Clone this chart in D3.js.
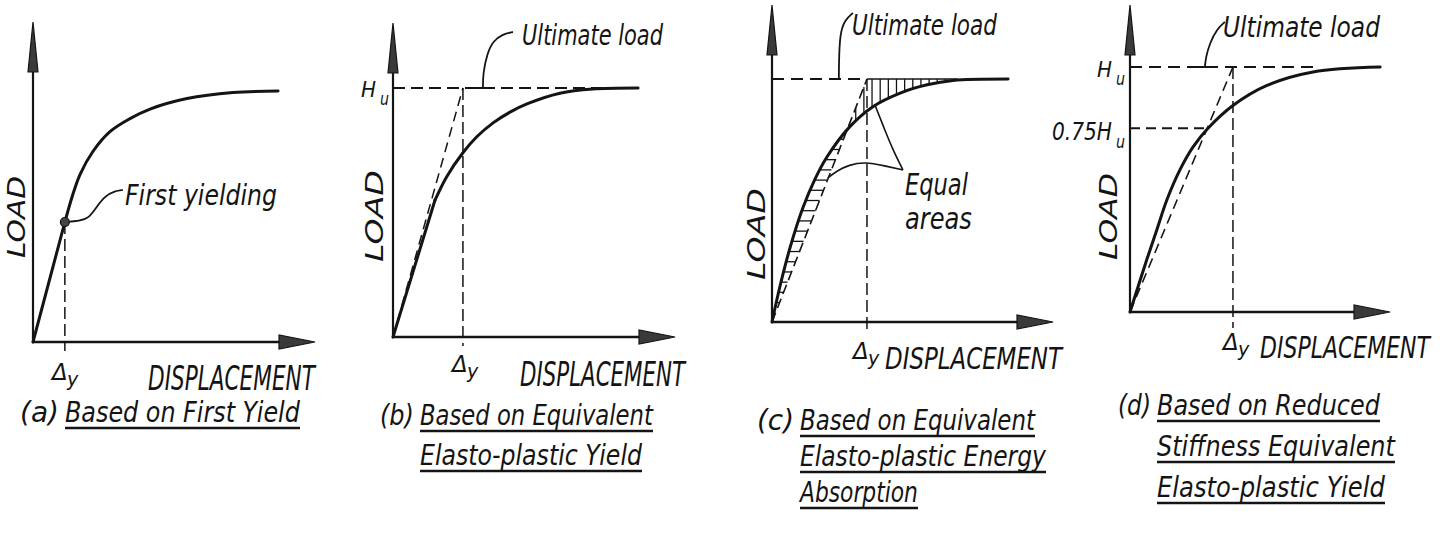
<!DOCTYPE html>
<html><head><meta charset="utf-8">
<script src="https://cdn.jsdelivr.net/npm/d3@7/dist/d3.min.js"></script>
<style>html,body{margin:0;padding:0;background:#fff;}svg{display:block;}</style>
</head><body>
<svg id="chart" width="1440" height="533"></svg>
<script>
// ---------- DATA (displacement in % of axis length, load in % of Hu) ----------
const dispA = [0, 11.3, 13.8, 16.7, 21.3, 27.3, 34.4, 41.5, 54.6, 70.9, 86.9];
const loadA = [0, 47.8, 57.6, 66.8, 76.0, 83.8, 89.0, 92.8, 97.0, 99.4, 100];
const dispB = [0, 14.9, 19.1, 24.8, 29.8, 35.5, 41.5, 47.5, 59.2, 70.9, 86.9];
const loadB = [0, 55.0, 64.5, 74.0, 80.5, 86.0, 90.3, 93.6, 97.9, 99.6, 100];
const dispC = [0, 2.8, 6.4, 11.0, 15.3, 19.6, 27.8, 35.9, 45.6, 55.2, 64.4, 84.0];
const loadC = [0, 14.5, 30.5, 47.0, 58.8, 68.0, 80.5, 88.6, 94.2, 97.6, 99.4, 100];
const dispD = [0, 6.5, 10.4, 14.2, 19.2, 24.2, 30.0, 39.6, 52.7, 70.4, 96.2];
const loadD = [0, 21.5, 33.8, 45.8, 58.0, 67.3, 75.0, 84.3, 92.5, 98.0, 100];
const yieldA = [11.3, 47.8];          // first yielding point (a)
const deltaY = [11.3, 24.8, 33.8, 39.6]; // yield displacement per panel
const loadLevels = [100, 75];          // Hu, 0.75Hu
const yTickLabels = ["H", "0.75H"];
const panelLetters = ["(a)", "(b)", "(c)", "(d)"];
const captions = [
  ["Based on First Yield"],
  ["Based on Equivalent", "Elasto-plastic Yield"],
  ["Based on Equivalent", "Elasto-plastic Energy", "Absorption"],
  ["Based on Reduced", "Stiffness Equivalent", "Elasto-plastic Yield"]
];

// ---------- LAYOUT ----------
const svg = d3.select("#chart");
const INK = "#141414";
const FONT = "'DejaVu Sans', 'Liberation Sans', sans-serif";
const layout = [
  {ox: 33,   oy: 342, W: 282, huY: 91, yTop: 22},
  {ox: 393,  oy: 337, W: 282, huY: 88, yTop: 23},
  {ox: 772,  oy: 322, W: 281, huY: 79, yTop: 5},
  {ox: 1130, oy: 312, W: 260, huY: 67, yTop: 5}
];
const panels = layout.map(L => ({
  L,
  x: d3.scaleLinear().domain([0, 100]).range([L.ox, L.ox + L.W]),
  y: d3.scaleLinear().domain([0, 100]).range([L.oy, L.huY]),
  g: svg.append("g")
}));

// text drawn at its natural size, then squeezed with a transform to the wanted length
function txt(g, s, x, y, size, len, rot) {
  const t = g.append("text").attr("x", 0).attr("y", 0)
    .attr("font-family", FONT).attr("font-style", "italic")
    .attr("font-size", size).attr("fill", INK).text(s);
  const nat = t.node().getComputedTextLength();
  const sx = len ? len / nat : 1;
  t.attr("transform", `translate(${x},${y})${rot ? " rotate(-90)" : ""} scale(${sx},1)`);
  return t;
}
function seg(g, x1, y1, x2, y2, w, dash) {
  const l = g.append("line").attr("x1", x1).attr("y1", y1).attr("x2", x2).attr("y2", y2)
    .attr("stroke", INK).attr("stroke-width", w || 2);
  if (dash) l.attr("stroke-dasharray", dash);
  return l;
}
function axes(p) {
  const {g, L} = p;
  const tip = L.ox + L.W;
  seg(g, L.ox, L.oy + 1, L.ox, L.yTop + 40, 2.2);
  g.append("path").attr("d", `M${L.ox},${L.yTop} L${L.ox + 5},${L.yTop + 50} L${L.ox - 5},${L.yTop + 50} Z`)
    .attr("fill", "#3a3a3a").attr("stroke", INK).attr("stroke-width", 1.2);
  seg(g, L.ox - 1, L.oy, tip - 30, L.oy, 2.4);
  g.append("path").attr("d", `M${tip},${L.oy} L${tip - 36},${L.oy - 7} L${tip - 36},${L.oy + 7} Z`)
    .attr("fill", "#3a3a3a").attr("stroke", INK).attr("stroke-width", 1.2);
}
const curveGen = (p) => d3.line().x(d => p.x(d[0])).y(d => p.y(d[1])).curve(d3.curveCatmullRom.alpha(0.5));
function drawCurve(p, disp, load, linearFirst) {
  const pts = disp.map((d, i) => [d, load[i]]);
  if (linearFirst) {
    seg(p.g, p.x(pts[0][0]), p.y(pts[0][1]), p.x(pts[1][0]), p.y(pts[1][1]), 3).attr("stroke-linecap", "round");
    p.g.append("path").attr("d", curveGen(p)(pts.slice(1))).attr("fill", "none")
      .attr("stroke", INK).attr("stroke-width", 3).attr("stroke-linecap", "round");
  } else {
    p.g.append("path").attr("d", curveGen(p)(pts)).attr("fill", "none")
      .attr("stroke", INK).attr("stroke-width", 3).attr("stroke-linecap", "round");
  }
}
function leader(g, pts, w) {
  g.append("path").attr("d", d3.line().curve(d3.curveBasis)(pts)).attr("fill", "none")
    .attr("stroke", INK).attr("stroke-width", w || 1.8);
}
function deltaLabel(g, x, y) {
  txt(g, "Δ", x, y, 23);
  txt(g, "y", x + 15, y + 6, 19);
}
function hLabel(g, s, xRight, y, size, len) {
  txt(g, s, xRight - 14 - len, y, size, len);
  txt(g, "u", xRight - 10, y + 8, 17, 9);
}
function caption(g, idx, xL, xT, ys, lens) {
  txt(g, panelLetters[idx], xL, ys[0], 28, xT - xL - 6);
  captions[idx].forEach((c, i) => {
    txt(g, c, xT, ys[i], 28, lens[i]);
    seg(g, xT, ys[i] + 6, xT + lens[i], ys[i] + 6, 2.6);
  });
}

// ---------- PANEL (a) ----------
{
  const p = panels[0], g = p.g;
  axes(p);
  drawCurve(p, dispA, loadA, true);
  seg(g, p.x(deltaY[0]), p.y(yieldA[1]), p.x(deltaY[0]), p.L.oy + 9, 1.5, "12,5");
  const a = [p.x(yieldA[0]), p.y(yieldA[1])];
  leader(g, [[a[0], a[1]], [a[0] + 15, a[1] - 1], [a[0] + 24, a[1] - 4], [a[0] + 31, a[1] - 14], [a[0] + 40, a[1] - 26], [a[0] + 50, a[1] - 31], [a[0] + 58, a[1] - 32]]);
  g.append("circle").attr("cx", a[0]).attr("cy", a[1]).attr("r", 4.5).attr("fill", "#444").attr("stroke", INK).attr("stroke-width", 1.2);
  txt(g, "First yielding", 125, 205, 29, 152);
  txt(g, "LOAD", 25, 258, 25, 82, true);
  deltaLabel(g, 52, 380);
  txt(g, "DISPLACEMENT", 148, 390, 33, 167);
  caption(g, 0, 20, 65, [422], [235]);
}

// ---------- PANEL (b) ----------
{
  const p = panels[1], g = p.g;
  axes(p);
  const hu = p.y(loadLevels[0]);
  seg(g, p.x(0), hu, p.x(86.9), hu, 2, "12,6");
  seg(g, p.x(0), p.y(0), p.x(deltaY[1]), hu, 1.5, "10,6");
  seg(g, p.x(deltaY[1]), hu, p.x(deltaY[1]), p.L.oy + 9, 1.5, "12,5");
  drawCurve(p, dispB, loadB, true);
  const f = [p.x(31.9), hu];
  seg(g, f[0] - 7, f[1], f[0], f[1], 2);
  leader(g, [[f[0], f[1]], [f[0], f[1] - 14], [f[0] + 4, f[1] - 34], [f[0] + 10, f[1] - 47], [f[0] + 20, f[1] - 54], [f[0] + 30, f[1] - 56]]);
  txt(g, "Ultimate load", 522, 45, 28, 141);
  hLabel(g, yTickLabels[0], 390, 97, 21, 15);
  txt(g, "LOAD", 383, 262, 25, 92, true);
  deltaLabel(g, 452, 372);
  txt(g, "DISPLACEMENT", 520, 386, 33, 165);
  caption(g, 1, 380, 420, [425, 465], [233, 222]);
}

// ---------- PANEL (c) ----------
{
  const p = panels[2], g = p.g;
  axes(p);
  const hu = p.y(loadLevels[0]);
  const dY = deltaY[2];
  const curveOfDisp = d3.scaleLinear().domain(dispC).range(loadC).clamp(true);
  const dispOfLoad = d3.scaleLinear().domain(loadC.slice(0, -1)).range(dispC.slice(0, -1)).clamp(true);
  const hat = g.append("g").attr("stroke", INK).attr("stroke-width", 1.3);
  // lower hatching (curve above the elasto-plastic line)
  d3.range(8, 80, 4.2).forEach(Ld => {
    const xc = dispOfLoad(Ld), xd = Ld * dY / 100;
    if (xd - xc > 0.4) hat.append("line").attr("x1", p.x(xc)).attr("x2", p.x(xd)).attr("y1", p.y(Ld)).attr("y2", p.y(Ld));
  });
  // upper hatching (plateau above the curve)
  d3.range(24, 66, 2.9).forEach(d => {
    const lc = curveOfDisp(d), lt = Math.min(100, d * 100 / dY);
    if (lt - lc > 0.6) hat.append("line").attr("x1", p.x(d)).attr("x2", p.x(d)).attr("y1", p.y(lc)).attr("y2", p.y(lt));
  });
  seg(g, p.x(0), hu, p.x(dY), hu, 2, "12,7");
  seg(g, p.x(dY), hu, p.x(66), hu, 1.6);
  seg(g, p.x(0), p.y(0), p.x(dY), hu, 1.6, "10,5");
  seg(g, p.x(dY), hu, p.x(dY), p.L.oy + 9, 1.5, "12,5");
  drawCurve(p, dispC, loadC, false);
  const f = [p.x(23.8), hu];
  seg(g, f[0] - 6, f[1], f[0] + 2, f[1], 2);
  leader(g, [[f[0], f[1]], [f[0], f[1] - 14], [f[0] + 1, f[1] - 46], [f[0] + 6, f[1] - 59], [f[0] + 14, f[1] - 66]]);
  const t = [p.x(46.6), p.y(62.6)];
  leader(g, [[t[0], t[1]], [t[0] - 10, t[1] - 20], [t[0] - 19, t[1] - 42], [t[0] - 28, t[1] - 65]], 1.6);
  leader(g, [[t[0], t[1]], [t[0] - 18, t[1] - 4], [t[0] - 38, t[1] - 8], [t[0] - 54, t[1] - 5], [t[0] - 66, t[1] + 1], [t[0] - 75, t[1] + 8]], 1.6);
  txt(g, "Ultimate load", 852, 35, 28, 145);
  txt(g, "Equal", 905, 195, 30, 63);
  txt(g, "areas", 905, 229, 30, 67);
  txt(g, "LOAD", 765, 280, 25, 92, true);
  deltaLabel(g, 853, 359);
  txt(g, "DISPLACEMENT", 885, 369, 31, 177);
  caption(g, 2, 757, 800, [430, 466, 502], [235, 246, 118]);
}

// ---------- PANEL (d) ----------
{
  const p = panels[3], g = p.g;
  axes(p);
  const hu = p.y(loadLevels[0]), h75 = p.y(loadLevels[1]);
  const dY = deltaY[3];
  seg(g, p.x(0), hu, p.x(70.4), hu, 2, "12,7");
  seg(g, p.x(0), h75, p.x(30), h75, 2, "10,6");
  seg(g, p.x(0), p.y(0), p.x(dY), hu, 1.6, "10,6");
  seg(g, p.x(dY), hu, p.x(dY), p.L.oy + 16, 1.5, "12,5");
  drawCurve(p, dispD, loadD, false);
  const f = [p.x(28.8), hu];
  seg(g, f[0] - 6, f[1], f[0] + 4, f[1], 2);
  leader(g, [[f[0], f[1]], [f[0] + 1, f[1] - 10], [f[0] + 5, f[1] - 24], [f[0] + 12, f[1] - 38], [f[0] + 20, f[1] - 45]]);
  txt(g, "Ultimate load", 1223, 37, 28, 157);
  hLabel(g, yTickLabels[0], 1126, 77, 21, 15);
  hLabel(g, yTickLabels[1], 1126, 140, 25, 60);
  txt(g, "LOAD", 1117, 260, 25, 87, true);
  deltaLabel(g, 1223, 350);
  txt(g, "DISPLACEMENT", 1260, 358, 30, 170);
  caption(g, 3, 1118, 1157, [415, 456, 497], [223, 238, 228]);
}
</script>
</body></html>
